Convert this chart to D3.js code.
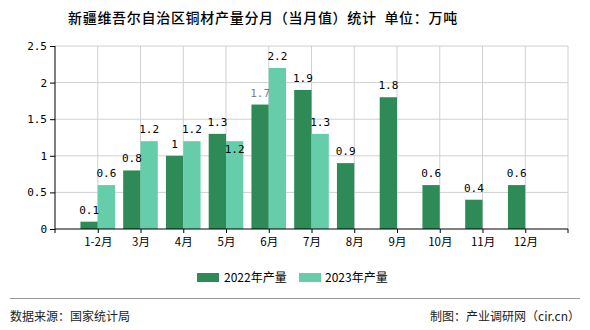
<!DOCTYPE html>
<html><head><meta charset="utf-8">
<script src="https://cdn.jsdelivr.net/npm/d3@7"></script>
<style>body{margin:0;background:#fff}svg{display:block}</style>
</head><body>
<script>
const categories = ["1-2月","3月","4月","5月","6月","7月","8月","9月","10月","11月","12月"];
const values2022 = [0.1,0.8,1,1.3,1.7,1.9,0.9,1.8,0.6,0.4,0.6];
const values2023 = [0.6,1.2,1.2,1.2,2.2,1.3,null,null,null,null,null];
const seriesNames = ["2022年产量","2023年产量"];
const yTicks = [0,0.5,1,1.5,2,2.5];
const colors = ["#2e8b57","#66cdaa"];

const W=590,H=330, L=55, R=568, T=46, B=229;
const svg = d3.select("body").append("svg").attr("width",W).attr("height",H);
const cjk = "'Noto Sans CJK SC','Noto Sans',sans-serif";
const mono = "'DejaVu Sans Mono','Liberation Mono',monospace";

svg.append("text").attr("x",68).attr("y",23).attr("font-family",cjk).attr("font-size",14)
  .attr("font-weight",500).attr("letter-spacing",0.7).attr("fill","#000")
  .attr("xml:space","preserve").text("新疆维吾尔自治区铜材产量分月（当月值）统计  单位：万吨");

const x = d3.scalePoint().domain(categories).range([L,R]).padding(1);
const y = d3.scaleLinear().domain([0,2.5]).range([B,T]);
const step = x.step(), bw = step*0.405;

// grid
const g = svg.append("g");
g.selectAll(".hg").data(yTicks.filter(d=>d>0)).join("line")
  .attr("x1",L).attr("x2",R).attr("y1",d=>y(d)).attr("y2",d=>y(d)).attr("stroke","#d0d0d0");
g.selectAll(".vg").data(categories).join("line")
  .attr("x1",d=>x(d)).attr("x2",d=>x(d)).attr("y1",T).attr("y2",B).attr("stroke","#d0d0d0");
g.append("line").attr("x1",R).attr("x2",R).attr("y1",T).attr("y2",B).attr("stroke","#d0d0d0");

// bars
const series=[values2022,values2023];
series.forEach((vals,si)=>{
  svg.append("g").selectAll("rect").data(categories.map((c,i)=>({c,v:vals[i]})).filter(d=>d.v!=null)).join("rect")
    .attr("x",d=>x(d.c)+(si===0?-bw:0)).attr("width",bw)
    .attr("y",d=>y(d.v)).attr("height",d=>B-y(d.v)).attr("fill",colors[si]);
});

// labels
series.forEach((vals,si)=>{
  svg.append("g").selectAll("text").data(categories.map((c,i)=>({c,v:vals[i]})).filter(d=>d.v!=null)).join("text")
    .attr("x",d=>x(d.c)+(si===0?-bw/2:bw/2))
    .attr("y",d=>(si===1&&d.c==="5月")? y(d.v)+12 : y(d.v)-8)
    .attr("text-anchor","middle").attr("font-family",mono).attr("font-size",11)
    .attr("fill",d=>(si===0&&d.c==="6月")?"#808080":"#000").text(d=>d.v);
});

// axes
const ya = svg.append("g").attr("transform",`translate(${L},0)`)
  .call(d3.axisLeft(y).tickValues(yTicks).tickSize(5).tickFormat(d=>d));
ya.select(".domain").attr("stroke","#000").attr("d",`M0,${T}V${B}`);
ya.selectAll(".tick line").attr("stroke","#000");
ya.selectAll("text").attr("font-family",mono).attr("font-size",11).attr("fill","#000").attr("x",-8);

const xa = svg.append("g").attr("transform",`translate(0,${B})`)
  .call(d3.axisBottom(x).tickSize(4).tickSizeOuter(4));
xa.select(".domain").attr("stroke","#000").attr("d",`M${L},4V0H${R}V4`);
xa.selectAll(".tick line").attr("stroke","#000");
xa.selectAll("text").attr("font-family",cjk).attr("font-size",11.5).attr("fill","#000").attr("dy","0.9em");

// legend
const lg = [{x:197,tx:224},{x:299,tx:325}];
seriesNames.forEach((n,i)=>{
  svg.append("rect").attr("x",lg[i].x).attr("y",273).attr("width",22).attr("height",9).attr("fill",colors[i]);
  svg.append("text").attr("x",lg[i].tx).attr("y",282).attr("font-family",cjk).attr("font-size",12).attr("fill","#000").text(n);
});

// footer
svg.append("line").attr("x1",10).attr("x2",580).attr("y1",298.5).attr("y2",298.5).attr("stroke","#999");
svg.append("text").attr("x",10).attr("y",321).attr("font-family",cjk).attr("font-size",12).attr("fill","#222").text("数据来源：国家统计局");
svg.append("text").attr("x",580).attr("y",321).attr("text-anchor","end").attr("font-family",cjk).attr("font-size",12).attr("fill","#222").text("制图：产业调研网（cir.cn）");
</script>
</body></html>
